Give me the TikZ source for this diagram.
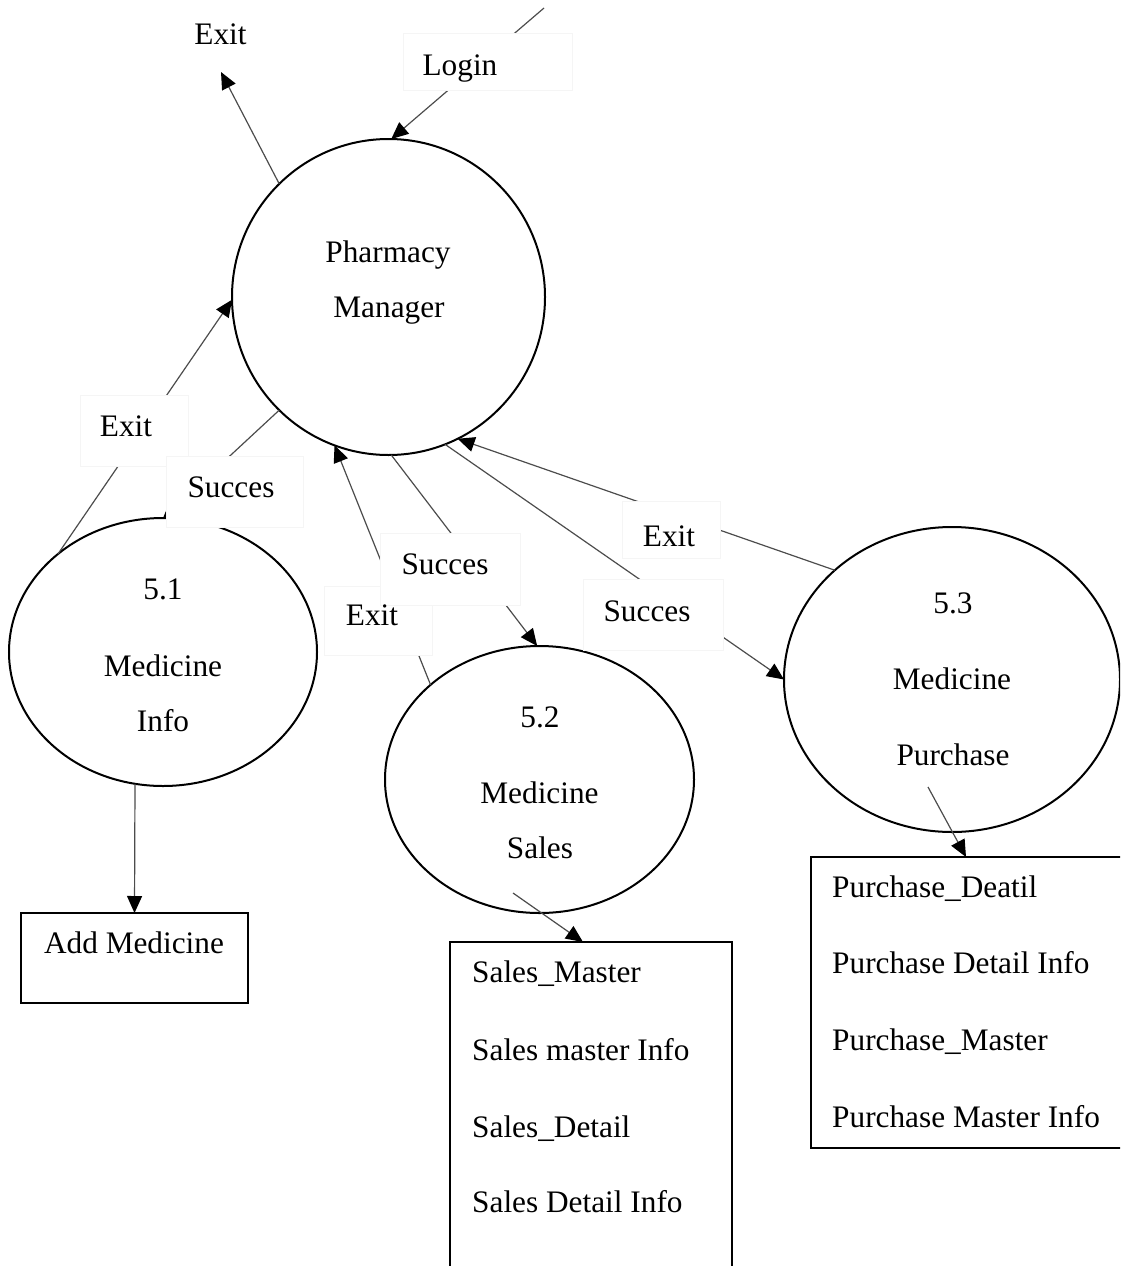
\documentclass[tikz,border=0pt]{standalone}
\usepackage{fontspec}
\setmainfont{Liberation Serif}
\usetikzlibrary{shapes.geometric,arrows.meta}
\begin{document}
\begin{tikzpicture}[x=1pt,y=-1pt,
  font=\fontsize{31.3}{37}\selectfont,
  proc/.style={draw=black,line width=2pt,ellipse,inner sep=0pt,outer sep=0pt},
  store/.style={line width=2.4pt,rectangle,inner sep=0pt,outer sep=0pt,anchor=north west},
  flow/.style={draw=black!70,line width=1.2pt,-{Triangle[length=17pt,width=15pt,color=black]}},
  tag/.style={fill=white,draw=black!4,line width=0.8pt,rectangle,inner sep=0pt,outer sep=0pt,anchor=north west},
  txt/.style={inner sep=0pt,anchor=base},
  ltxt/.style={inner sep=0pt,anchor=base west}]
\useasboundingbox (0,0) rectangle (1120,1266);
\clip (0,0) rectangle (1120,1266);

% processes
\node[proc,minimum width=313pt,minimum height=316pt] (pm) at (388.5,297) {};
\node[proc,minimum width=308pt,minimum height=268pt] (m1) at (163,652) {};
\node[proc,minimum width=309pt,minimum height=267pt] (m2) at (539.5,779.5) {};
\node[proc,minimum width=336pt,minimum height=305pt] (m3) at (952,679.5) {};

% data stores
\node[store,draw=black,minimum width=227pt,minimum height=90pt] (addmed) at (21,913) {};
\node[store,minimum width=282pt,minimum height=340pt] (sales) at (450,942) {};
\draw[line width=2.4pt] (sales.south west) -- (sales.north west) -- (sales.north east) -- (sales.south east);
\node[store,draw=black,minimum width=330pt,minimum height=291pt] (purch) at (811,857) {};

% free ends
\coordinate (loginSrc) at (544,8);
\coordinate (exitTip) at (221,72);
\coordinate (salesSrc) at (513,893);
\coordinate (purchSrc) at (928,787);

% flows
\draw[flow] (pm.134) -- (exitTip);
\draw[flow] (loginSrc) -- (pm.89);
\draw[flow] (m1.137) -- (pm.181);
\draw[flow] (pm.-134) -- (m1.90);
\draw[flow] (m2.139) -- (pm.-110);
\draw[flow] (pm.-89) -- (m2.91);
\draw[flow] (pm.-69) -- (m3.180);
\draw[flow] (m3.137) -- (pm.-64);
\draw[flow] (m1.-102) -- (addmed.north);
\draw[flow] (salesSrc) -- ([xshift=133pt]sales.north west);
\draw[flow] (purchSrc) -- ([xshift=155pt]purch.north west);

% label boxes over the flows
\node[tag,minimum width=169pt,minimum height=57pt] (bLogin) at (403,33) {};
\node[tag,minimum width=108pt,minimum height=71pt] (bExitA) at (80,395) {};
\node[tag,minimum width=137pt,minimum height=71pt] (bSuccA) at (166,456) {};
\node[tag,minimum width=108pt,minimum height=69pt] (bExitB) at (324,586) {};
\node[tag,minimum width=140pt,minimum height=72pt] (bSuccB) at (380,533) {};
\node[tag,minimum width=98pt,minimum height=57pt] (bExitC) at (622,501) {};
\node[tag,minimum width=140pt,minimum height=71pt] (bSuccC) at (583,579) {};

% flow labels
\node[txt] (lExitTop) at (220.5,44) {Exit};
\node[txt] (lLogin) at (460,75) {Login};
\node[txt] (lExitA) at (126,436) {Exit};
\node[txt] (lSuccA) at (231,497) {Succes};
\node[txt] (lSuccB) at (445,574) {Succes};
\node[txt] (lExitB) at (372,625) {Exit};
\node[txt] (lExitC) at (669,546) {Exit};
\node[txt] (lSuccC) at (647,621) {Succes};

% process texts
\node[txt] (pmA) at (388,262) {Pharmacy};
\node[txt] (pmB) at (389,317) {Manager};
\node[txt] (m1A) at (163,599) {5.1};
\node[txt] (m1B) at (163,676) {Medicine};
\node[txt] (m1C) at (163,731) {Info};
\node[txt] (m2A) at (540,727) {5.2};
\node[txt] (m2B) at (539.5,803) {Medicine};
\node[txt] (m2C) at (540,858) {Sales};
\node[txt] (m3A) at (953,613) {5.3};
\node[txt] (m3B) at (952,689) {Medicine};
\node[txt] (m3C) at (953,765) {Purchase};

% store texts
\node[txt] (addA) at (134,953) {Add Medicine};
\node[ltxt] (sA) at (472,982) {Sales\_Master};
\node[ltxt] (sB) at (472,1060) {Sales master Info};
\node[ltxt] (sC) at (472,1137) {Sales\_Detail};
\node[ltxt] (sD) at (472,1212) {Sales Detail Info};
\node[ltxt] (pA) at (832,897) {Purchase\_Deatil};
\node[ltxt] (pB) at (832,973) {Purchase Detail Info};
\node[ltxt] (pC) at (832,1050) {Purchase\_Master};
\node[ltxt] (pD) at (832,1127) {Purchase Master Info};
\end{tikzpicture}
\end{document}
